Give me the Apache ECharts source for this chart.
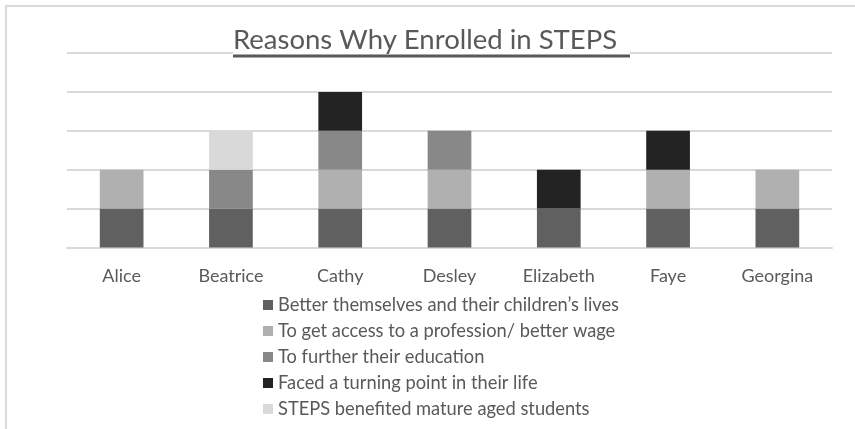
<!DOCTYPE html>
<html>
<head>
<meta charset="utf-8">
<script src="https://cdn.jsdelivr.net/npm/echarts@6/dist/echarts.min.js"></script>
<style>html,body{margin:0;padding:0;background:#fff;}#c{width:855px;height:429px;}</style>
</head>
<body>
<div id="c"></div>
<script>
const categories = ['Alice', 'Beatrice', 'Cathy', 'Desley', 'Elizabeth', 'Faye', 'Georgina'];
const seriesNames = [
  'Better themselves and their children\u2019s lives',
  'To get access to a profession/ better wage',
  'To further their education',
  'Faced a turning point in their life',
  'STEPS benefited mature aged students'
];
const betterLives   = [1, 1, 1, 1, 1, 1, 1];
const accessWage    = [1, 0, 1, 1, 0, 1, 1];
const furtherEdu    = [0, 1, 1, 1, 0, 0, 0];
const turningPoint  = [0, 0, 1, 0, 1, 1, 0];
const matureAged    = [0, 1, 0, 0, 0, 0, 0];
const seriesColors = ['#606060', '#b0b0b0', '#888888', '#232323', '#d9d9d9'];
const valuesList = [betterLives, accessWage, furtherEdu, turningPoint, matureAged];

const chart = echarts.init(document.getElementById('c'), null, {renderer: 'canvas'});
const font = 'Lato, "Open Sans", sans-serif';
chart.setOption({
  animation: false,
  backgroundColor: '#fff',
  title: {
    text: 'Reasons Why Enrolled in STEPS',
    left: 233,
    top: 26,
    padding: 0,
    z: 40,
    textStyle: {fontFamily: font, fontSize: 27.5, fontWeight: 'normal', color: '#595959'}
  },
  graphic: [
    {type: 'rect', shape: {x: 6, y: 6, width: 900, height: 500}, style: {fill: 'none', stroke: '#d9d9d9', lineWidth: 2}, z: 1},
    {type: 'rect', shape: {x: 233, y: 49, width: 397, height: 6}, style: {fill: '#fff'}, z: 25},
    {type: 'line', shape: {x1: 233, y1: 56, x2: 630, y2: 56}, style: {stroke: '#595959', lineWidth: 3}, z: 30}
  ],
  legend: {
    orient: 'vertical',
    left: 258,
    top: 290,
    itemWidth: 10,
    itemHeight: 10,
    itemGap: 6,
    icon: 'rect',
    data: seriesNames,
    textStyle: {fontFamily: font, fontSize: 18.3, color: '#595959', lineHeight: 20}
  },
  grid: {left: 67, right: 23, top: 53, bottom: 181.5, containLabel: false},
  xAxis: {
    type: 'category',
    data: categories,
    axisLine: {lineStyle: {color: '#d9d9d9', width: 2}},
    axisTick: {show: false},
    axisLabel: {fontFamily: font, fontSize: 18, color: '#595959', margin: 20}
  },
  yAxis: {
    type: 'value',
    min: 0, max: 5, interval: 1,
    axisLabel: {show: false},
    axisLine: {show: false},
    axisTick: {show: false},
    splitLine: {lineStyle: {color: '#d9d9d9', width: 2}}
  },
  series: seriesNames.map((n, i) => ({
    name: n,
    type: 'bar',
    stack: 'total',
    barWidth: '40%',
    data: valuesList[i].map(v => v === 0 ? null : v),
    itemStyle: {color: seriesColors[i]}
  }))
});
</script>
</body>
</html>
